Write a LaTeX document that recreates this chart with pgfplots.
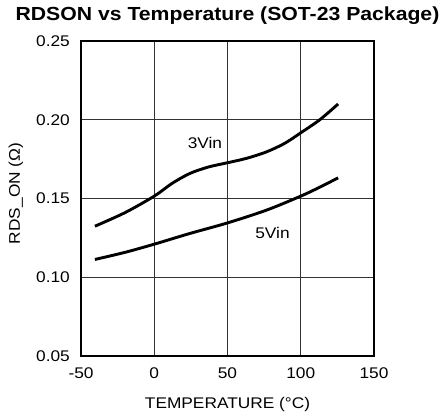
\documentclass[border=0pt]{standalone}
\usepackage{pgfplots}
\pgfplotsset{compat=1.18}
\usepackage{fontspec}
\setmainfont{Liberation Sans}[FakeStretch=1.12]
\begin{document}
\begin{tikzpicture}[x=1bp,y=1bp]
\useasboundingbox (-81bp,-59bp) rectangle (362bp,356bp);
\begin{axis}[
  at={(0,0)}, anchor=south west,
  scale only axis,
  width=293bp, height=315bp,
  xmin=-50, xmax=150, ymin=0.05, ymax=0.25,
  xtick={-50,0,50,100,150},
  ytick={0.05,0.10,0.15,0.20,0.25},
  /pgf/number format/assume math mode=true,
  grid=major,
  major grid style={black!80, line width=0.9bp},
  axis line style={black, line width=1.3bp},
  tick style={draw=none},
  ticklabel style={font=\fontsize{15.5}{17}\selectfont},
  xticklabel style={anchor=base, yshift=-22bp},
  yticklabel style={anchor=east, inner sep=0pt, xshift=-11bp,
    /pgf/number format/fixed, /pgf/number format/fixed zerofill, /pgf/number format/precision=2},
  xlabel={TEMPERATURE (°C)},
  ylabel={RDS\_ON (Ω)},
  label style={font=\fontsize{15.5}{17}\selectfont},
  xlabel style={at={(axis description cs:0.5,-0.1651)}, anchor=base},
  ylabel style={at={(axis description cs:-0.2082,0.516)}, anchor=base},
  title={\textbf{RDSON vs Temperature (SOT-23 Package)}},
  title style={font=\fontsize{19}{21}\selectfont, at={(axis description cs:0.5,1.0476)}, anchor=base},
]
\addplot[black, line width=2.9bp, smooth, no markers] coordinates {(-40.5,0.1324) (-20,0.1410) (0,0.1515) (12,0.1595) (24.3,0.1659) (37,0.1700) (50,0.1727) (63,0.1755) (76.6,0.1796) (89,0.1850) (100,0.1917) (113,0.2000) (125.5,0.2100)};
\addplot[black, line width=2.9bp, smooth, no markers] coordinates {(-40.5,0.1113) (-20,0.1158) (0,0.1210) (24.3,0.1278) (50,0.1345) (76.6,0.1426) (100,0.1515) (113,0.1572) (125.5,0.1631)};
\node[font=\fontsize{15.5}{17}\selectfont] at (axis cs:34.6,0.185) {3Vin};
\node[font=\fontsize{15.5}{17}\selectfont] at (axis cs:80.7,0.128) {5Vin};
\end{axis}
\end{tikzpicture}
\end{document}
